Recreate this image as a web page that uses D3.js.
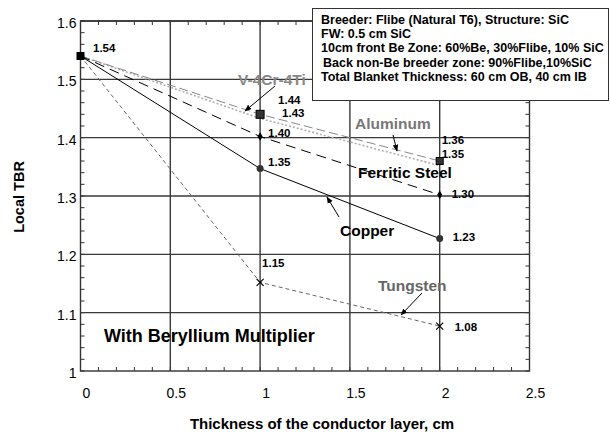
<!DOCTYPE html>
<html>
<head>
<meta charset="utf-8">
<script src="https://cdn.jsdelivr.net/npm/d3@7"></script>
<style>
  html, body { margin: 0; padding: 0; background: #fff; }
  svg { display: block; font-family: Arial, "Liberation Sans", sans-serif; }
</style>
</head>
<body>
<svg id="chart" width="610" height="435"></svg>
<script>
// ---- data ----
const thickness = [0, 1, 2];
const copper    = [1.54, 1.347, 1.227];
const ferritic  = [1.54, 1.402, 1.302];
const aluminum  = [1.54, 1.44, 1.36];
const vanadium  = [1.54, 1.433, 1.352];
const tungsten  = [1.54, 1.152, 1.077];
const xTicks = [0, 0.5, 1, 1.5, 2, 2.5];
const yTicks = [1, 1.1, 1.2, 1.3, 1.4, 1.5, 1.6];
const yTickLabels = ["1", "1.1", "1.2", "1.3", "1.4", "1.5", "1.6"];
const xTickLabels = ["0", "0.5", "1", "1.5", "2", "2.5"];
const infoLines = [
  "Breeder: Flibe (Natural T6), Structure: SiC",
  "FW: 0.5 cm SiC",
  "10cm front Be Zone: 60%Be, 30%Flibe, 10% SiC",
  "Back non-Be breeder zone: 90%Flibe,10%SiC",
  "Total Blanket Thickness: 60 cm OB, 40 cm IB"
];

const svg = d3.select("#chart");
const x = d3.scaleLinear().domain([0, 2.5]).range([80.5, 529.5]);
const y = d3.scaleLinear().domain([1, 1.6]).range([371, 21]);

// minor ticks
const gMinor = svg.append("g").attr("stroke", "#333").attr("stroke-width", 1);
d3.range(0, 2.5001, 0.1).forEach(v => {
  gMinor.append("line").attr("x1", x(v)).attr("x2", x(v)).attr("y1", y(1)).attr("y2", y(1) - 4);
  gMinor.append("line").attr("x1", x(v)).attr("x2", x(v)).attr("y1", y(1.6)).attr("y2", y(1.6) + 4);
});
d3.range(1, 1.6001, 0.02).forEach(v => {
  gMinor.append("line").attr("x1", x(0)).attr("x2", x(0) + 4).attr("y1", y(v)).attr("y2", y(v));
  gMinor.append("line").attr("x1", x(2.5)).attr("x2", x(2.5) - 4).attr("y1", y(v)).attr("y2", y(v));
});

// grid
const gGrid = svg.append("g").attr("stroke", "#3a3a3a").attr("stroke-width", 1.4);
yTicks.slice(1).forEach(v => {
  gGrid.append("line").attr("x1", x(0)).attr("x2", x(2.5)).attr("y1", y(v)).attr("y2", y(v));
});
xTicks.slice(1, -1).forEach(v => {
  gGrid.append("line").attr("x1", x(v)).attr("x2", x(v)).attr("y1", y(1)).attr("y2", y(1.6));
});

// frame
svg.append("rect").attr("x", x(0)).attr("y", y(1.6))
  .attr("width", x(2.5) - x(0)).attr("height", y(1) - y(1.6))
  .attr("fill", "none").attr("stroke", "#333").attr("stroke-width", 1.4);

// axis tick labels
svg.append("g").selectAll("text").data(xTicks).join("text")
  .attr("x", d => x(d) + 6).attr("y", 398)
  .attr("text-anchor", "middle").attr("font-size", 14).attr("fill", "#000")
  .text((d, i) => xTickLabels[i]);
svg.append("g").selectAll("text").data(yTicks).join("text")
  .attr("x", x(0) - 4).attr("y", d => y(d) + 7)
  .attr("text-anchor", "end").attr("font-size", 14).attr("fill", "#000")
  .text((d, i) => yTickLabels[i]);

// axis titles
svg.append("text").attr("x", 322).attr("y", 428.5).attr("text-anchor", "middle")
  .attr("font-size", 15).attr("font-weight", "bold").text("Thickness of the conductor layer, cm");
svg.append("text").attr("transform", "translate(23.5,197) rotate(-90)").attr("text-anchor", "middle")
  .attr("font-size", 14.5).attr("font-weight", "bold").text("Local TBR");

// series lines
const line = d3.line().x(d => x(d[0])).y(d => y(d[1]));
const pts = arr => thickness.map((t, i) => [t, arr[i]]);
const series = [
  { v: tungsten, stroke: "#666", w: 1, dash: "4,3" },
  { v: vanadium, stroke: "#b0b0b0", w: 1.6, dash: "2,2" },
  { v: aluminum, stroke: "#888", w: 1, dash: "9,4" },
  { v: ferritic, stroke: "#000", w: 1, dash: "10,6" },
  { v: copper,   stroke: "#000", w: 1, dash: null }
];
series.forEach(s => {
  svg.append("path").datum(pts(s.v)).attr("d", line)
    .attr("fill", "none").attr("stroke", s.stroke).attr("stroke-width", s.w)
    .attr("stroke-dasharray", s.dash);
});

// markers
svg.append("rect").attr("x", x(0) - 4).attr("y", y(copper[0]) - 4).attr("width", 8).attr("height", 8).attr("fill", "#000");
[1, 2].forEach(i => {
  const sz = i === 1 ? 8 : 7;
  svg.append("rect").attr("x", x(thickness[i]) - sz / 2).attr("y", y(aluminum[i]) - sz / 2)
    .attr("width", sz).attr("height", sz).attr("fill", "#333").attr("stroke", "#000").attr("stroke-width", 1);
  svg.append("path").attr("d", d3.symbol(d3.symbolDiamond, 22)())
    .attr("transform", `translate(${x(thickness[i])},${y(ferritic[i])})`).attr("fill", "#000");
  svg.append("circle").attr("cx", x(thickness[i])).attr("cy", y(copper[i])).attr("r", 3.5).attr("fill", "#333");
  const cx = x(thickness[i]), cy = y(tungsten[i]);
  svg.append("path").attr("d", `M${cx - 3.5},${cy - 3.5}L${cx + 3.5},${cy + 3.5}M${cx - 3.5},${cy + 3.5}L${cx + 3.5},${cy - 3.5}`)
    .attr("stroke", "#000").attr("stroke-width", 1.2);
});

// value labels
const fmt = d3.format(".2f");
const valueLabels = [
  { t: 0, v: copper[0], dx: 12.5, dy: -3.7 },
  { t: 1, v: aluminum[1], dx: 18, dy: -10 },
  { t: 1, v: vanadium[1], dx: 22, dy: -1 },
  { t: 1, v: ferritic[1], dx: 8, dy: 0.8 },
  { t: 1, v: copper[1], dx: 8, dy: -2.3 },
  { t: 1, v: tungsten[1], dx: 2, dy: -15 },
  { t: 2, v: aluminum[2], dx: 2, dy: -16.7 },
  { t: 2, v: vanadium[2], dx: 2, dy: -7.4 },
  { t: 2, v: ferritic[2], dx: 12, dy: 3.5 },
  { t: 2, v: copper[2], dx: 13, dy: 2.7 },
  { t: 2, v: tungsten[2], dx: 15, dy: 5.2 }
];
svg.append("g").selectAll("text").data(valueLabels).join("text")
  .attr("x", d => x(d.t) + d.dx).attr("y", d => y(d.v) + d.dy)
  .attr("font-size", 11.5).attr("font-weight", "bold").attr("fill", "#000")
  .text(d => fmt(d.v));

// series name annotations with arrows
svg.append("defs").append("marker").attr("id", "ah").attr("viewBox", "0 0 10 10")
  .attr("refX", 9).attr("refY", 5).attr("markerWidth", 7).attr("markerHeight", 7)
  .attr("orient", "auto").attr("markerUnits", "userSpaceOnUse")
  .append("path").attr("d", "M0,1L10,5L0,9z").attr("fill", "#000");

const names = [
  { text: "V-4Cr-4Ti", tx: 238, ty: 84.5, col: "#888", from: [275, 86], to: [245, 111] },
  { text: "Aluminum", tx: 355, ty: 128.5, col: "#777", from: [393, 135], to: [397, 151] },
  { text: "Ferritic Steel", tx: 358, ty: 177.5, col: "#000", from: null },
  { text: "Copper", tx: 340, ty: 235.5, col: "#000", from: [339, 217], to: [327, 197] },
  { text: "Tungsten", tx: 378, ty: 290.5, col: "#666", from: [422, 293], to: [401, 315] }
];
names.forEach(n => {
  svg.append("text").attr("x", n.tx).attr("y", n.ty).attr("font-size", 15.5)
    .attr("font-weight", "bold").attr("fill", n.col).text(n.text);
  if (n.from) {
    svg.append("line").attr("x1", n.from[0]).attr("y1", n.from[1]).attr("x2", n.to[0]).attr("y2", n.to[1])
      .attr("stroke", "#000").attr("stroke-width", 1).attr("marker-end", "url(#ah)");
  }
});

svg.append("text").attr("x", 104).attr("y", 341.5).attr("font-size", 18)
  .attr("font-weight", "bold").attr("fill", "#000").text("With Beryllium Multiplier");

// info box
svg.append("rect").attr("x", 312.5).attr("y", 8.5).attr("width", 296).attr("height", 92)
  .attr("fill", "#fff").attr("stroke", "#333").attr("stroke-width", 1);
svg.append("g").selectAll("text").data(infoLines).join("text")
  .attr("x", (d, i) => i === 3 ? 323 : 321).attr("y", (d, i) => 23.8 + i * 14.3)
  .attr("font-size", 12.5).attr("font-weight", "bold").attr("fill", "#000")
  .text(d => d);
</script>
</body>
</html>
